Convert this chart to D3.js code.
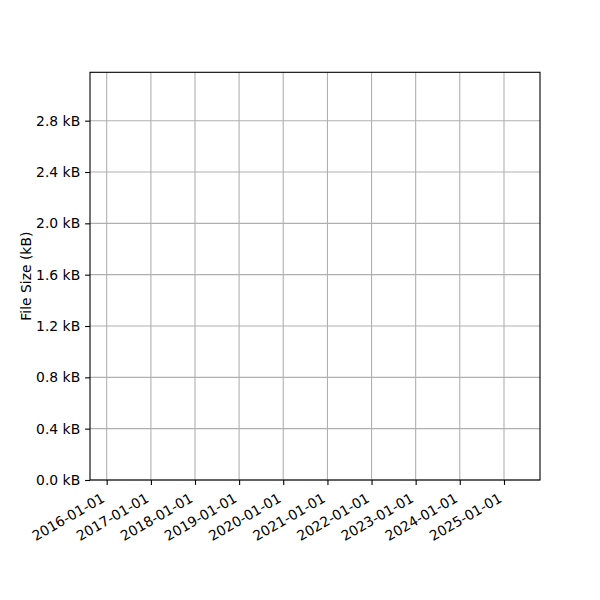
<!DOCTYPE html>
<html>
<head>
<meta charset="utf-8">
<script src="https://cdn.jsdelivr.net/npm/d3@7"></script>
<style>
  html, body { margin: 0; padding: 0; background: #fff; }
  svg { display: block; }
  text { font-family: "DejaVu Sans", sans-serif; font-size: 13.9px; fill: #000; }
</style>
</head>
<body>
<svg id="chart" width="600" height="600"></svg>
<script>
// Data (the chart contains no series; only axis extents and ticks)
const xDomain = ["2015-08-16", "2025-10-26"];
const xTickLabels = ["2016-01-01", "2017-01-01", "2018-01-01", "2019-01-01", "2020-01-01",
                     "2021-01-01", "2022-01-01", "2023-01-01", "2024-01-01", "2025-01-01"];
const yDomain = [0, 3.177];
const yTickValues = [0.0, 0.4, 0.8, 1.2, 1.6, 2.0, 2.4, 2.8];
const yLabel = "File Size (kB)";

const margin = { left: 90, right: 60, top: 72.3, bottom: 120 };
const W = 600, H = 600;
const iw = W - margin.left - margin.right;
const ih = H - margin.top - margin.bottom;

const parse = d3.utcParse("%Y-%m-%d");
const fmt = d3.utcFormat("%Y-%m-%d");

const svg = d3.select("#chart");
const g = svg.append("g").attr("transform", `translate(${margin.left},${margin.top})`);

const x = d3.scaleUtc().domain(xDomain.map(parse)).range([0, iw]);
const y = d3.scaleLinear().domain(yDomain).range([ih, 0]);

const xTicks = xTickLabels.map(parse);

// grid
g.append("g").selectAll("line").data(xTicks).join("line")
  .attr("x1", d => x(d)).attr("x2", d => x(d))
  .attr("y1", 0).attr("y2", ih)
  .attr("stroke", "#b0b0b0").attr("stroke-width", 1.1);
g.append("g").selectAll("line").data(yTickValues).join("line")
  .attr("x1", 0).attr("x2", iw)
  .attr("y1", d => y(d)).attr("y2", d => y(d))
  .attr("stroke", "#b0b0b0").attr("stroke-width", 1.1);

// x axis
const xAxis = g.append("g").attr("transform", `translate(0,${ih})`)
  .call(d3.axisBottom(x).tickValues(xTicks).tickFormat(fmt).tickSizeOuter(0).tickSize(4.9).tickPadding(0));
xAxis.select(".domain").remove();
xAxis.selectAll(".tick line").attr("stroke", "#000").attr("stroke-width", 1.1);
xAxis.selectAll(".tick text")
  .attr("font-family", null).attr("font-size", null)
  .attr("text-anchor", "end")
  .attr("y", 0).attr("dy", null)
  .attr("transform", "translate(-1.6,21) rotate(-30)");

// y axis
const yAxis = g.append("g")
  .call(d3.axisLeft(y).tickValues(yTickValues).tickFormat(d => d3.format(".1f")(d) + " kB")
    .tickSizeOuter(0).tickSize(4.9).tickPadding(4.9));
yAxis.select(".domain").remove();
yAxis.selectAll(".tick line").attr("stroke", "#000").attr("stroke-width", 1.1);
yAxis.selectAll(".tick text").attr("font-family", null).attr("font-size", null);

// frame
g.append("rect").attr("x", 0).attr("y", 0).attr("width", iw).attr("height", ih)
  .attr("fill", "none").attr("stroke", "#000").attr("stroke-width", 1.1);

// y label
svg.append("text")
  .attr("transform", `translate(30.5,${margin.top + ih / 2}) rotate(-90)`)
  .attr("text-anchor", "middle")
  .text(yLabel);
</script>
</body>
</html>
